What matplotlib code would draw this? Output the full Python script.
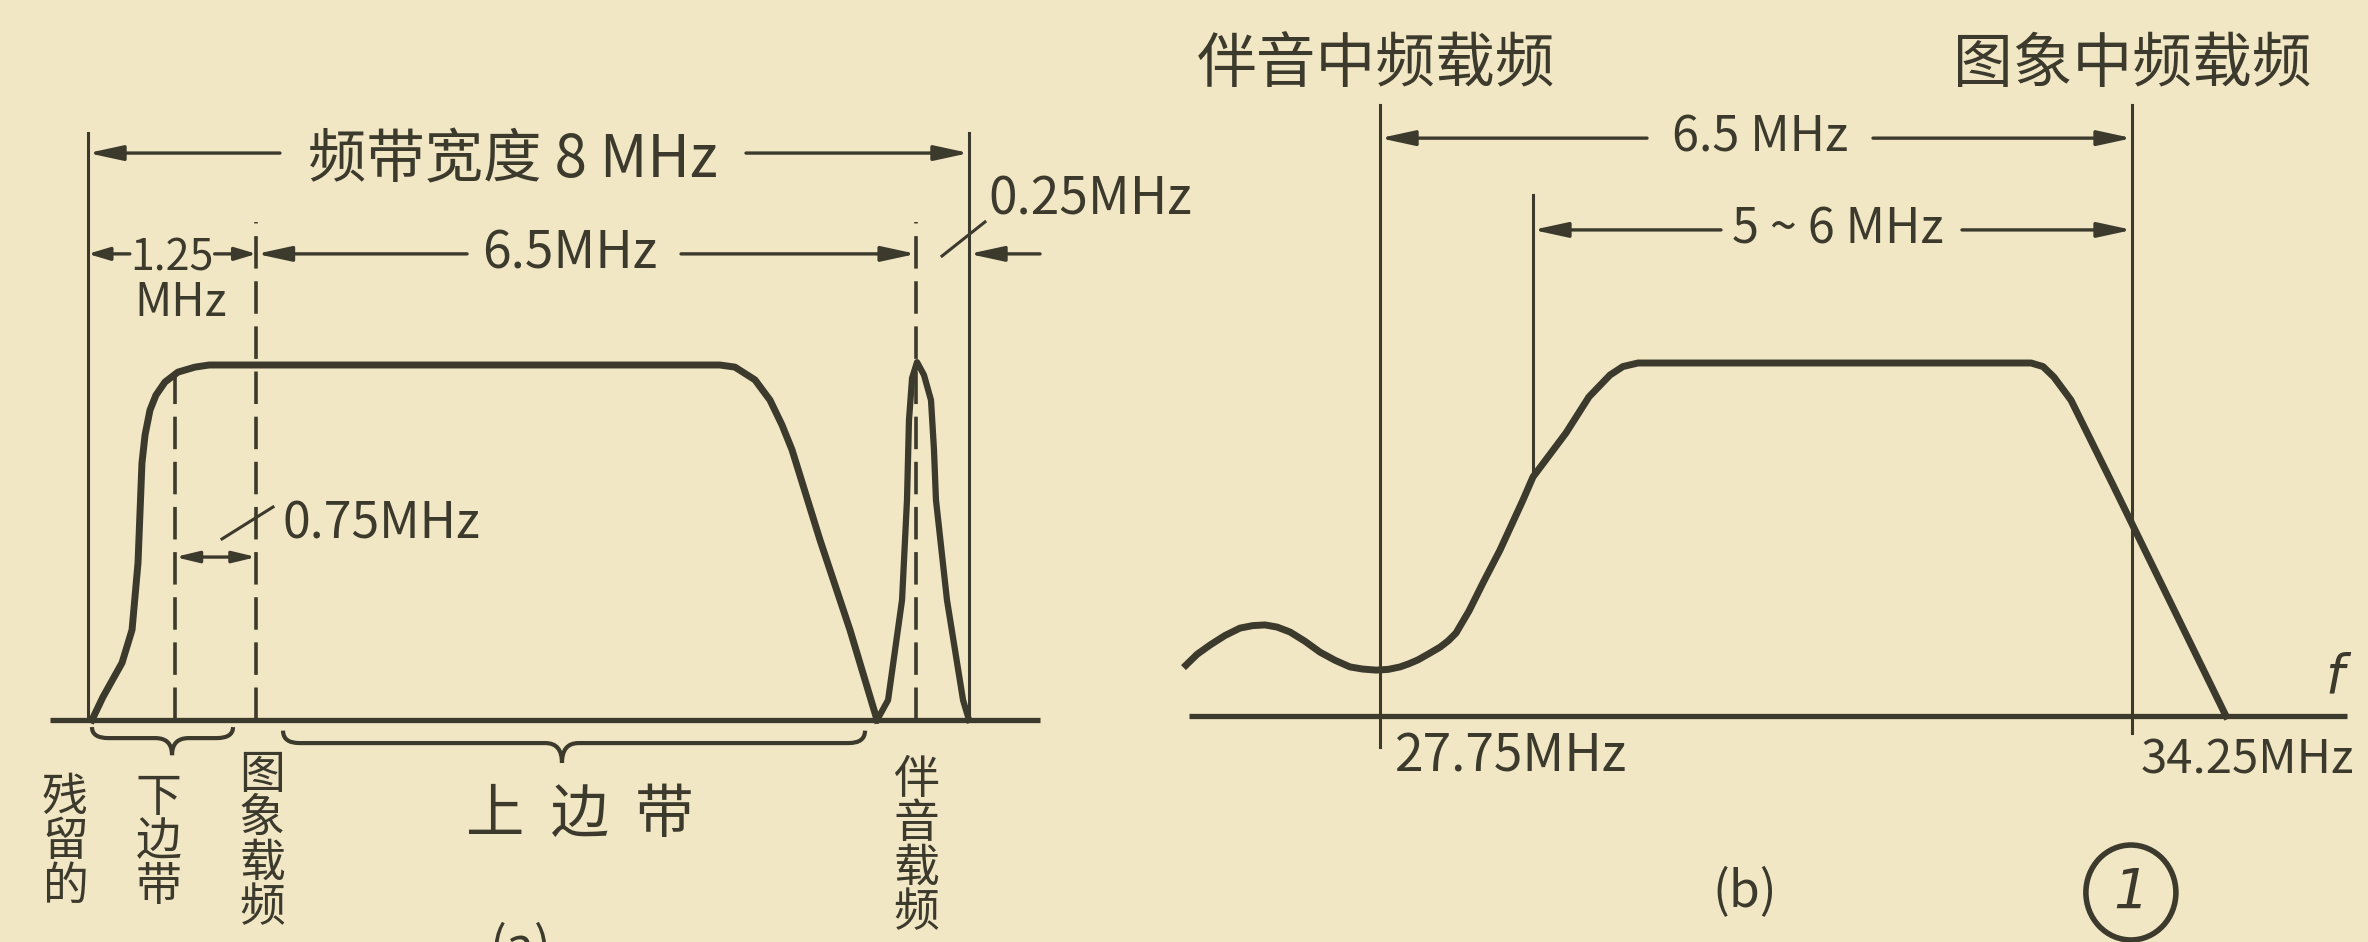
import numpy as np
import matplotlib.pyplot as plt
from matplotlib.patches import Ellipse, PathPatch
from matplotlib.path import Path

PAPER = "#f2e7c5"
INK = "#3b3a2c"
plt.rcParams['font.family'] = ['Noto Sans CJK SC', 'DejaVu Sans']

# ---------------- data ----------------
# (a) full channel, x = MHz from lower band edge (as drawn), y = relative amplitude
a_band_mhz = [0.036, 0.136, 0.309, 0.400, 0.454, 0.490, 0.518, 0.563, 0.617,
              0.699, 0.817, 0.971, 1.10, 5.739, 5.875, 6.057, 6.193, 6.302,
              6.393, 6.647, 6.919, 7.165]
a_band_amp = [0.0, 0.065, 0.161, 0.254, 0.442, 0.724, 0.803, 0.873, 0.915,
              0.952, 0.980, 0.994, 1.0, 1.0, 0.994, 0.958, 0.901, 0.831,
              0.761, 0.507, 0.254, 0.0]
a_sound_mhz = [7.165, 7.265, 7.392, 7.437, 7.455, 7.483, 7.528, 7.591, 7.655,
               7.682, 7.700, 7.800, 7.946, 8.0]
a_sound_amp = [0.0, 0.056, 0.338, 0.620, 0.845, 0.963, 1.008, 0.972, 0.901,
               0.761, 0.620, 0.338, 0.056, 0.0]
a_edges = [0.0, 8.0]                 # band edges (solid)
a_vestige_end = 0.79                 # end of vestigial lower sideband (dashed)
a_picture_carrier = 1.53             # picture carrier (dashed)
a_sound_carrier = 7.52               # sound carrier (dashed)
a_bottom_labels = ["残留的", "下边带", "图象载频", "伴音载频"]
a_bottom_label_x = [-0.21, 0.64, 1.58, 7.52]

# (b) IF response, x = MHz, y = relative amplitude
b_curve_mhz = [26.073, 26.17, 26.281, 26.41, 26.540, 26.65, 26.756, 26.86,
               26.972, 27.10, 27.231, 27.36, 27.491, 27.60, 27.715, 27.82,
               27.923, 28.00, 28.078, 28.17, 28.269, 28.34, 28.407, 28.52,
               28.640, 28.787, 28.986, 29.072, 29.358, 29.556, 29.738, 29.85,
               29.980, 33.377, 33.48, 33.575, 33.722, 34.077, 35.062]
b_curve_amp = [0.144, 0.175, 0.201, 0.228, 0.249, 0.256, 0.258, 0.252,
               0.238, 0.212, 0.181, 0.158, 0.139, 0.133, 0.130, 0.132,
               0.139, 0.148, 0.159, 0.176, 0.195, 0.213, 0.235, 0.298,
               0.377, 0.470, 0.612, 0.677, 0.802, 0.904, 0.966, 0.99,
               1.0, 1.0, 0.99, 0.960, 0.895, 0.660, 0.0]
b_sound_if = 27.75
b_picture_if = 34.25
b_passband_start = 29.072
b_tick_labels = ["27.75MHz", "34.25MHz"]

# ---------------- layout ----------------
W, H, DPI = 2368, 942, 100
fig = plt.figure(figsize=(W / DPI, H / DPI), dpi=DPI)
fig.patch.set_facecolor(PAPER)

def panel(px0, px_per_x, py0, py_per_y, x0):
    ax = fig.add_axes([0, 0, 1, 1])
    ax.set_xlim(x0 - px0 / px_per_x, x0 + (W - px0) / px_per_x)
    ax.set_ylim(-(H - py0) / py_per_y, py0 / py_per_y)
    ax.axis("off")
    ax.patch.set_alpha(0)
    return ax

ax_a = panel(88, 110.125, 720, 355, 0.0)
ax_b = panel(1380, 115.7, 716, 353, 27.75)

arrow_kw = dict(arrowstyle="-|>,head_length=0.6,head_width=0.13",
                mutation_scale=35, color=INK, lw=2.4, shrinkA=0, shrinkB=0)


def dim_arrow(ax, x_tail, x_head, y, **kw):
    ax.annotate("", xy=(x_head, y), xytext=(x_tail, y), arrowprops=dict(arrow_kw, **kw))


def brace(ax, x0, x1, xtip, y_end, y_line, y_tip, r):
    verts = [(x0, y_end), (x0, y_line), (x0 + r, y_line),
             (xtip - r, y_line), (xtip, y_line), (xtip, y_tip),
             (xtip, y_line), (xtip + r, y_line),
             (x1 - r, y_line), (x1, y_line), (x1, y_end)]
    codes = [Path.MOVETO, Path.CURVE3, Path.CURVE3,
             Path.LINETO, Path.CURVE3, Path.CURVE3,
             Path.CURVE3, Path.CURVE3,
             Path.LINETO, Path.CURVE3, Path.CURVE3]
    ax.add_patch(PathPatch(Path(verts, codes), fill=False, ec=INK, lw=3))


txt = dict(color=INK, ha="center", va="center")

# ---------------- panel (a) ----------------
ax_a.plot([-0.345, 8.645], [0, 0], color=INK, lw=3.8, solid_capstyle="butt")
ax_a.plot(a_band_mhz, a_band_amp, color=INK, lw=5, solid_joinstyle="round")
ax_a.plot(a_sound_mhz, a_sound_amp, color=INK, lw=4.5, solid_joinstyle="round")
for x in a_edges:
    ax_a.plot([x, x], [0, 1.654], color=INK, lw=2.2)
ax_a.plot([a_vestige_end] * 2, [0, 0.986], color=INK, lw=2.6, ls=(0, (9, 3.5)))
ax_a.plot([a_picture_carrier] * 2, [0, 1.403], color=INK, lw=2.6, ls=(0, (9, 3.5)))
ax_a.plot([a_sound_carrier] * 2, [0, 1.403], color=INK, lw=2.6, ls=(0, (9, 3.5)))

# total bandwidth
dim_arrow(ax_a, 1.743, a_edges[0], 1.597)
dim_arrow(ax_a, 5.975, a_edges[1], 1.597)
ax_a.text(3.86, 1.575, "频带宽度 8 MHz", fontsize=42, **txt)

# second row
small = dict(arrowstyle="-|>,head_length=0.5,head_width=0.15", mutation_scale=26)
dim_arrow(ax_a, 0.38, a_edges[0], 1.313, **small)
dim_arrow(ax_a, 1.15, a_picture_carrier, 1.313, **small)
ax_a.text(0.76, 1.30, "1.25", fontsize=31, **txt)
ax_a.text(0.845, 1.175, "MHz", fontsize=33, **txt)
dim_arrow(ax_a, 3.442, a_picture_carrier, 1.313)
dim_arrow(ax_a, 5.385, a_sound_carrier, 1.313)
ax_a.text(4.377, 1.313, "6.5MHz", fontsize=37, **txt)
dim_arrow(ax_a, 8.645, a_edges[1], 1.313)
ax_a.plot([7.755, 8.145], [1.307, 1.403], color=INK, lw=2.2)
ax_a.text(8.173, 1.465, "0.25MHz", fontsize=37, color=INK, ha="left", va="center")

# vestigial width
ax_a.annotate("", xy=(a_vestige_end, 0.459), xytext=(a_picture_carrier, 0.459),
              arrowprops=dict(arrow_kw, arrowstyle="<|-|>,head_length=0.5,head_width=0.12",
                              mutation_scale=28))
ax_a.plot([1.217, 1.68], [0.51, 0.60], color=INK, lw=2.2)
ax_a.text(1.762, 0.55, "0.75MHz", fontsize=36, color=INK, ha="left", va="center")

# braces and bottom labels
brace(ax_a, 0.036, 1.317, 0.763, -0.02, -0.051, -0.099, 0.15)
brace(ax_a, 1.771, 7.056, 4.304, -0.03, -0.065, -0.121, 0.15)
label_top = [-0.15, -0.15, -0.085, -0.10]
for lab, x, yt in zip(a_bottom_labels, a_bottom_label_x, label_top):
    ax_a.text(x, yt, "\n".join(lab), fontsize=33, color=INK, ha="center",
              va="top", linespacing=0.89)
ax_a.text(4.468, -0.268, "上  边  带", fontsize=42, **txt)
ax_a.text(3.93, -0.57, "(a)", fontsize=36, color=INK, ha="center", va="top")

# ---------------- panel (b) ----------------
ax_b.plot([26.099, 36.108], [0, 0], color=INK, lw=3.8, solid_capstyle="butt")
ax_b.plot(b_curve_mhz, b_curve_amp, color=INK, lw=5, solid_joinstyle="round")
ax_b.plot([b_sound_if] * 2, [-0.088, 1.731], color=INK, lw=2.2)
ax_b.plot([b_picture_if] * 2, [-0.048, 1.731], color=INK, lw=2.2)
ax_b.plot([b_passband_start] * 2, [0.677, 1.476], color=INK, lw=2.2)

ax_b.text(b_sound_if - 0.03, 1.844, "伴音中频载频", fontsize=43, **txt)
ax_b.text(b_picture_if, 1.844, "图象中频载频", fontsize=43, **txt)

dim_arrow(ax_b, 30.058, b_sound_if, 1.637)
dim_arrow(ax_b, 32.011, b_picture_if, 1.637)
ax_b.text(31.034, 1.637, "6.5 MHz", fontsize=35, **txt)
dim_arrow(ax_b, 30.697, b_passband_start, 1.377)
dim_arrow(ax_b, 32.78, b_picture_if, 1.377)
ax_b.text(31.708, 1.377, "5 ~ 6 MHz", fontsize=35, **txt)

ax_b.text(b_sound_if + 0.13, -0.116, b_tick_labels[0], fontsize=37, color=INK,
          ha="left", va="center")
ax_b.text(b_picture_if + 0.077, -0.125, b_tick_labels[1], fontsize=34, color=INK,
          ha="left", va="center")
ax_b.text(36.0, 0.11, "f", fontsize=38, color=INK, ha="center", va="center",
          family="DejaVu Sans", style="italic")

ax_b.text(30.905, -0.50, "(b)", fontsize=36, **txt)
ax_b.add_patch(Ellipse((34.24, -0.50), 0.778, 0.269, fill=False, ec=INK, lw=4))
ax_b.text(34.24, -0.50, "1", fontsize=40, color=INK, ha="center", va="center",
          family="DejaVu Sans", style="italic")

fig.savefig("out.png", dpi=DPI, facecolor=PAPER)
